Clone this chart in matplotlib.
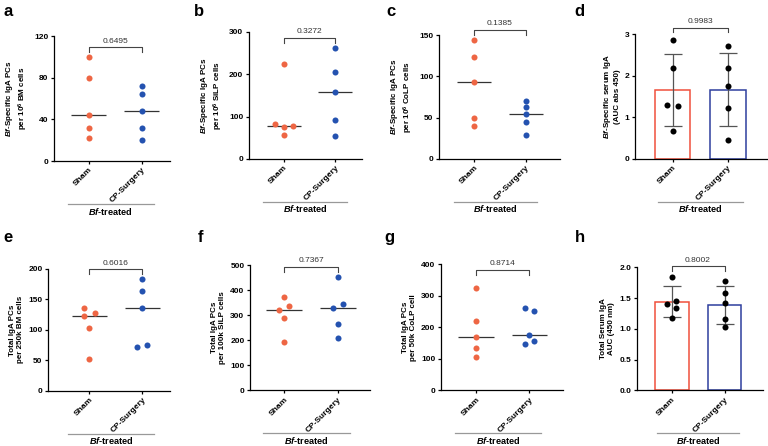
import numpy as np
import matplotlib
matplotlib.use('Agg')
import matplotlib.pyplot as plt
from matplotlib.transforms import offset_copy

plt.rcParams['font.family'] = ['Liberation Sans', 'DejaVu Sans']
plt.rcParams['mathtext.fontset'] = 'custom'
plt.rcParams['mathtext.rm'] = 'Liberation Sans:bold'
plt.rcParams['mathtext.it'] = 'Liberation Sans:italic:bold'
plt.rcParams['mathtext.bf'] = 'Liberation Sans:bold'

groups = ['Sham', 'CP-Surgery']
group_label = r'$Bf$-treated'

# values
a_sham = [100, 80, 44, 32, 22]
a_cp = [72, 64, 48, 32, 20]
b_sham = [224, 82, 78, 75, 57]
b_cp = [261, 206, 158, 91, 54]
c_sham = [143.6, 124, 93, 49, 40.5]
c_cp = [70.6, 62.6, 54.5, 44.5, 28.5]
d_sham = [2.87, 2.18, 1.29, 1.27, 0.68]
d_cp = [2.71, 2.18, 1.76, 1.22, 0.45]
e_sham = [135.5, 127.8, 122.9, 103.6, 52.3]
e_cp = [184, 163, 136.6, 74.4, 71]
f_sham = [371, 338, 321, 290, 194]
f_cp = [451, 346, 330, 265, 208]
g_sham = [324, 219.5, 168, 135, 105.5]
g_cp = [260.7, 252, 176, 158, 147]
h_sham = [1.847, 1.452, 1.398, 1.333, 1.18]
h_cp = [1.782, 1.587, 1.415, 1.159, 1.024]

p_values = ['0.6495', '0.3272', '0.1385', '0.9983', '0.6016', '0.7367', '0.8714', '0.8002']

ylabels = [
    '$Bf$-Specific IgA PCs\nper 10$^{6}$ BM cells',
    '$Bf$-Specific IgA PCs\nper 10$^{6}$ SiLP cells',
    '$Bf$-Specific IgA PCs\nper 10$^{6}$ CoLP cells',
    '$Bf$-Specific serum IgA\n(AUC abs 450)',
    'Total IgA PCs\nper 250k BM cells',
    'Total IgA PCs\nper 100k SiLP cells',
    'Total IgA PCs\nper 50k CoLP cell',
    'Total Serum IgA\nAUC (450 nm)',
]
yticks = [
    [0, 40, 80, 120],
    [0, 100, 200, 300],
    [0, 50, 100, 150],
    [0, 1, 2, 3],
    [0, 50, 100, 150, 200],
    [0, 100, 200, 300, 400, 500],
    [0, 100, 200, 300, 400],
    [0.0, 0.5, 1.0, 1.5, 2.0],
]
letters = ['a', 'b', 'c', 'd', 'e', 'f', 'g', 'h']

# horizontal jitter of the dots (layout only)
z5 = [0, 0, 0, 0, 0]
jitter = [
    (z5, z5),
    ([0, -0.18, 0.18, 0, 0], z5),
    (z5, z5),
    ([0, 0, -0.1, 0.1, 0], z5),
    ([-0.09, 0.1, -0.09, 0, 0], [0, 0, 0, 0.1, -0.1]),
    ([0, 0.09, -0.09, 0, 0], [0, 0.09, -0.09, 0, 0]),
    (z5, [-0.09, 0.09, 0, 0.09, -0.09]),
    ([0, 0.09, -0.09, 0.09, 0], z5),
]
data = [(a_sham, a_cp), (b_sham, b_cp), (c_sham, c_cp), (d_sham, d_cp),
        (e_sham, e_cp), (f_sham, f_cp), (g_sham, g_cp), (h_sham, h_cp)]
is_bar = [False, False, False, True, False, False, False, True]

# axes rectangles in figure fraction
rects = [
    [0.0703, 0.639, 0.151, 0.280],
    [0.324, 0.6435, 0.148, 0.285],
    [0.5716, 0.6435, 0.1576, 0.278],
    [0.8268, 0.6435, 0.172, 0.280],
    [0.0625, 0.124, 0.159, 0.273],
    [0.3255, 0.1246, 0.156, 0.281],
    [0.574, 0.1246, 0.159, 0.283],
    [0.829, 0.1246, 0.164, 0.276],
]
xlims = [(-0.66, 1.53), (-0.68, 1.53), (-0.69, 1.67), (-0.68, 1.71),
         (-0.78, 1.53), (-0.635, 1.59), (-0.66, 1.63), (-0.66, 1.72)]
bracket_y = [0.912, 0.953, 1.043, 1.053, 0.997, 0.987, 0.955, 1.008]
letter_pos = [(0.004, 0.992), (0.253, 0.992), (0.503, 0.992), (0.748, 0.992),
              (0.004, 0.485), (0.257, 0.485), (0.501, 0.485), (0.748, 0.485)]

dot_colors = ['#EE6644', '#2452B0']
bar_colors = ['#F0503C', '#2E3F9E']

fig = plt.figure(figsize=(7.68, 4.46), dpi=100)

for k in range(8):
    ax = fig.add_axes(rects[k])
    sham, cp = data[k]
    for i, vals in enumerate([sham, cp]):
        vals = np.array(vals)
        xs = i + np.array(jitter[k][i])
        if is_bar[k]:
            m = vals.mean()
            sd = vals.std(ddof=1)
            ax.bar(i, m, width=0.64, facecolor='white', edgecolor=bar_colors[i],
                   linewidth=1.1, zorder=1)
            ax.errorbar(i, m, yerr=sd, color='#555555', lw=0.9, capsize=6.5,
                        capthick=0.9, zorder=2)
            ax.scatter(xs, vals, s=19, color='black', linewidths=0, zorder=3)
        else:
            ax.scatter(xs, vals, s=19, color=dot_colors[i], linewidths=0, zorder=3)
            ax.hlines(np.median(vals), i - 0.33, i + 0.33, color='#333333',
                      lw=0.9, zorder=2)

    ax.set_xlim(*xlims[k])
    ax.set_ylim(yticks[k][0], yticks[k][-1])
    ax.set_yticks(yticks[k])
    if k == 7:
        ax.set_yticklabels(['%.1f' % t for t in yticks[k]])
    ax.set_xticks([0, 1])
    ax.set_xticklabels(groups, rotation=45, ha='right', va='top',
                       rotation_mode='anchor')
    ax.tick_params(axis='both', length=2.5, width=0.9, labelsize=6, pad=1.5)
    for lab in ax.get_xticklabels() + ax.get_yticklabels():
        lab.set_fontweight('bold')
    for s in ['top', 'right']:
        ax.spines[s].set_visible(False)
    for s in ['left', 'bottom']:
        ax.spines[s].set_linewidth(0.9)
    ax.set_ylabel(ylabels[k], fontsize=5.8, fontweight='bold', labelpad=3,
                  linespacing=1.15)

    # significance bracket
    tr = ax.get_xaxis_transform()
    yb = bracket_y[k]
    ax.plot([0, 0, 1, 1], [yb - 0.04, yb, yb, yb - 0.04], transform=tr,
            color='#444444', lw=0.8, clip_on=False)
    ax.text(0.5, yb + 0.02, p_values[k], transform=tr, ha='center', va='bottom',
            fontsize=6, color='#333333')

    # group label under the ticks, fixed pixel distance below the axis
    if is_bar[k]:
        gl, gr = -0.27, 1.27
    else:
        gl, gr = -0.40, 1.22
    tr_line = offset_copy(tr, fig=fig, y=-43, units='dots')
    tr_text = offset_copy(tr, fig=fig, y=-44.5, units='dots')
    ax.plot([gl, gr], [0, 0], transform=tr_line, color='#999999', lw=0.9,
            clip_on=False)
    ax.text((gl + gr) / 2, 0, group_label, transform=tr_text, ha='center',
            va='top', fontsize=6.6, fontweight='bold')

    fig.text(letter_pos[k][0], letter_pos[k][1], letters[k], fontsize=12,
             fontweight='bold', ha='left', va='top')

fig.savefig('out.png', dpi=100, facecolor='white')
plt.close(fig)
